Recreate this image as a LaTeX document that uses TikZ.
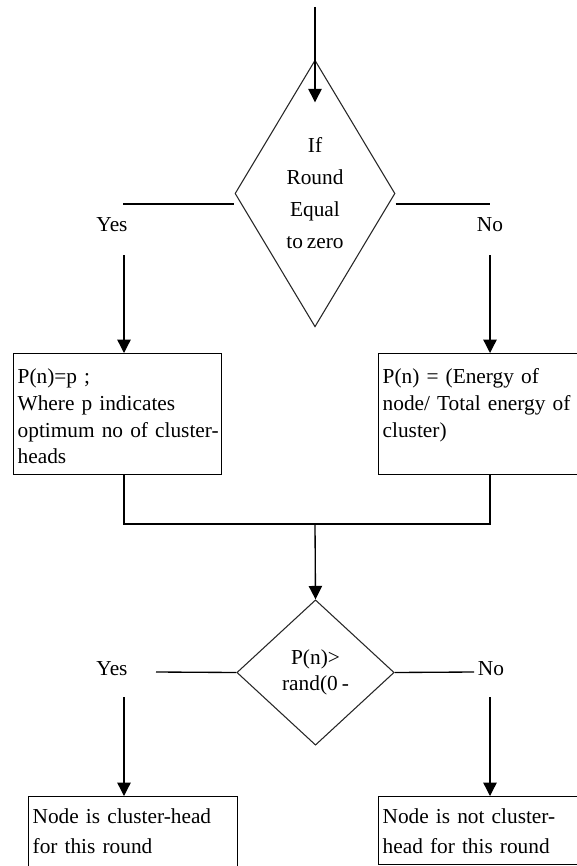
\documentclass[tikz,border=0pt]{standalone}
\usepackage{fontspec}
\setmainfont{Liberation Serif}[WordSpace=0.75]
\usetikzlibrary{shapes.geometric,arrows.meta}

\begin{document}
\begin{tikzpicture}[x=0.75pt, y=-0.75pt,
    font={\fontsize{16}{20}\selectfont},
    box/.style={draw, line width=1pt, anchor=north west, align=left,
      inner xsep=3pt, inner ysep=10.5pt, text height=12pt},
    decision/.style={draw=black!85, diamond, line width=0.8pt, inner sep=0pt, align=center},
    lbl/.style={inner sep=1pt},
    link/.style={line width=1pt},
    flow/.style={line width=1pt, -{Triangle[width=10pt,length=10pt]}}]
    \useasboundingbox (0,0) rectangle (576,866);
    % decisions
    \node[decision, minimum width=120pt, minimum height=200pt, shape aspect=0.6,
      font={\fontsize{16}{24}\selectfont}] (round) at (315,193.5) {If\\ Round\\ Equal\\ to zero};
    \node[decision, minimum width=118pt, minimum height=109pt,
      font={\fontsize{16}{19}\selectfont}] (test) at (315.5,672.5) {P(n)>\\ rand(0 -};
    % boxes
    \node[box, text width=150pt, text depth=57.75pt] (pfix) at (13,353)
      {P(n)=p ;\\ Where p indicates\\ \mbox{optimum no of cluster-}\\ heads};
    \node[box, text width=160pt, text depth=57.75pt] (penergy) at (378,353)
      {P(n) = (Energy of\\ node/ Total energy of\\ cluster)};
    \node[box, inner ysep=8pt, text width=150.75pt, text depth=45pt,
      font={\fontsize{16}{22.5}\selectfont}] (head) at (28,796) {Node is cluster-head\\ for this round};
    \node[box, inner ysep=8pt, text width=160pt, text depth=23pt,
      font={\fontsize{16}{22.5}\selectfont}] (nohead) at (378,796) {Node is not cluster-\\ head for this round};
    % labels
    \node[lbl] (yes1) at (112,225) {Yes};
    \node[lbl] (no1) at (490,225) {No};
    \node[lbl] (yes2) at (112,669) {Yes};
    \node[lbl] (no2) at (491,669) {No};
    % free ends
    \coordinate (in) at (315,7);
    \coordinate (yesA) at (123,204);
    \coordinate (yesB) at (124,255);
    \coordinate (noA) at (490,204);
    \coordinate (noB) at (490,255);
    \coordinate (join) at (315,524);
    \coordinate (yes2A) at (156,672);
    \coordinate (yes2B) at (124,697);
    \coordinate (no2A) at (474,672);
    \coordinate (no2B) at (490,697);
    % connectors
    \draw[flow] (in) -- ([yshift=-32pt]round.north);
    \draw[link] (yesA) -- (yesA -| round.west);
    \draw[link] (noA -| round.east) -- (noA);
    \draw[flow] (yesB) -- (yesB |- pfix.north);
    \draw[flow] (noB) -- (noB |- penergy.north);
    \draw[link] (pfix.south -| yesB) |- (join) -| (penergy.south -| noB);
    \draw[flow] (join) -- (test.north);
    \draw[link] (test.west) -- (yes2A);
    \draw[link] (test.east) -- (no2A);
    \draw[flow] (yes2B) -- (yes2B |- head.north);
    \draw[flow] (no2B) -- (no2B |- nohead.north);
\end{tikzpicture}
\end{document}
